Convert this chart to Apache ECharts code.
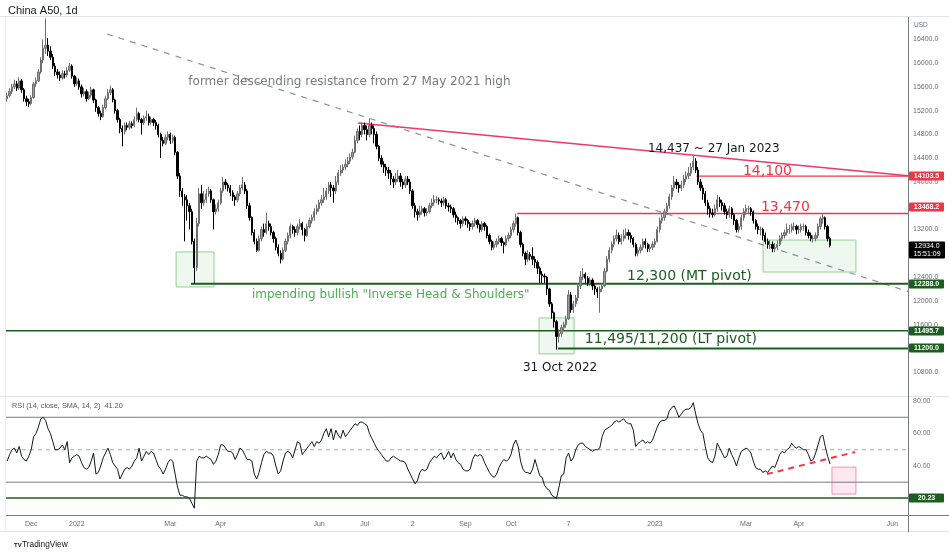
<!DOCTYPE html>
<html>
<head>
<meta charset="utf-8">
<title>China A50, 1d</title>
<script src="https://cdn.jsdelivr.net/npm/echarts@6.0.0/dist/echarts.min.js"></script>
<style>
  html, body { margin: 0; padding: 0; background: #ffffff; }
  #main { width: 949px; height: 552px; }
</style>
</head>
<body>
<div id="main"></div>
<script>
// 横轴：日线，右侧留空到 6 月
var SLOTS = 376;
var tickIdx  = [10, 29, 68, 89, 130, 149, 169, 191, 210, 234, 270, 308, 330, 369];
var tickText = ['Dec', '2022', 'Mar', 'Apr', 'Jun', 'Jul', '2', 'Sep', 'Oct', '7', '2023', 'Mar', 'Apr', 'Jun'];
var priceTicks = [10800, 11200, 11600, 12000, 12400, 12800, 13200, 13600, 14000, 14400, 14800, 15200, 15600, 16000, 16400];
var rsiTicks = [40, 60, 80];

// 日K [open, close, low, high]
var ohlc = [
  [15400,15450,15350,15500],[15450,15520,15420,15580],[15520,15600,15480,15650],[15600,15650,15560,15720],[15650,15580,15530,15700],[15580,15700,15550,15760],[15700,15550,15500,15730],[15550,15400,15350,15580],[15400,15350,15280,15450],[15350,15320,15260,15400],
  [15320,15420,15290,15460],[15420,15650,15400,15680],[15650,15700,15600,15760],[15700,15850,15680,15900],[15850,16050,15820,16100],[16050,16250,16000,16400],[16250,16300,16150,16750],[16300,16200,16120,16420],[16200,16100,16050,16280],[16100,15950,15900,16150],
  [15950,15850,15780,16000],[15850,15800,15740,15900],[15800,15750,15700,15860],[15750,15820,15720,15880],[15820,15800,15740,15870],[15800,15880,15760,15930],[15880,15950,15850,16000],[15950,15780,15740,15980],[15780,15650,15600,15800],[15650,15700,15620,15760],
  [15700,15600,15550,15740],[15600,15480,15420,15640],[15480,15520,15440,15580],[15520,15400,15350,15560],[15400,15460,15380,15520],[15460,15550,15420,15600],[15550,15380,15330,15570],[15380,15250,15180,15400],[15250,15150,15100,15280],[15150,15100,15040,15200],
  [15100,15250,15080,15300],[15250,15400,15220,15450],[15400,15500,15380,15560],[15500,15550,15460,15620],[15550,15380,15340,15580],[15380,15200,15150,15400],[15200,15050,15000,15230],[15050,14900,14820,15080],[14900,14850,14600,14950],[14850,14950,14800,15000],
  [14950,14920,14870,15000],[14920,14980,14880,15030],[14980,14950,14900,15020],[14950,15050,14920,15100],[15050,15150,15020,15250],[15150,15050,15000,15180],[15050,15000,14800,15080],[15000,15080,14960,15120],[15080,15100,15030,15200],[15100,15000,14950,15150],
  [15000,15050,14960,15100],[15050,15000,14940,15080],[15000,14950,14880,15040],[14950,14800,14750,14980],[14800,14700,14400,14830],[14700,14650,14600,14760],[14650,14750,14620,14800],[14750,14800,14700,14850],[14800,14700,14640,14830],[14700,14750,14650,14800],
  [14750,14500,14450,14780],[14500,14100,14050,14520],[14100,13850,13750,14150],[13850,13750,13600,13900],[13750,13700,13000,13800],[13700,13600,13350,13780],[13600,13500,13200,13650],[13500,13000,12950,13550],[13000,12560,12290,13050],[12560,13300,12500,13400],
  [13300,13800,13250,13900],[13800,13650,13550,13950],[13650,13700,13600,13850],[13700,13800,13650,13880],[13800,13850,13750,13920],[13850,13700,13650,13880],[13700,13500,13200,13720],[13500,13550,13450,13620],[13550,13650,13500,13700],[13650,13850,13620,13900],
  [13850,14000,13820,14080],[14000,13950,13880,14050],[13950,13900,13840,13980],[13900,13820,13760,13950],[13820,13750,13680,13860],[13750,13700,13600,13780],[13700,13800,13660,13850],[13800,13900,13760,13950],[13900,13950,13860,14080],[13950,13850,13800,14000],
  [13850,13600,13550,13880],[13600,13400,13350,13650],[13400,13150,13100,13420],[13150,13000,12950,13200],[13000,12850,12820,13050],[12850,13050,12830,13100],[13050,13200,13000,13250],[13200,13150,13080,13300],[13150,13300,13120,13480],[13300,13250,13180,13350],
  [13250,13150,13100,13300],[13150,13050,12980,13180],[13050,12900,12850,13080],[12900,12800,12750,12950],[12800,12700,12630,12850],[12700,12850,12680,12900],[12850,13000,12820,13050],[13000,13100,12950,13150],[13100,13250,13050,13300],[13250,13200,13130,13280],
  [13200,13150,13080,13250],[13150,13250,13100,13300],[13250,13300,13200,13380],[13300,13200,13100,13330],[13200,13100,13000,13230],[13100,13250,13080,13300],[13250,13350,13220,13400],[13350,13400,13300,13450],[13400,13500,13350,13560],[13500,13550,13450,13620],
  [13550,13650,13500,13700],[13650,13700,13600,13780],[13700,13750,13650,13900],[13750,13850,13700,13900],[13850,13950,13800,14000],[13950,13900,13750,14000],[13900,13850,13650,13950],[13850,14000,13800,14100],[14000,14150,13950,14200],[14150,14200,14100,14280],
  [14200,14250,14150,14300],[14250,14300,14200,14380],[14300,14350,14250,14420],[14350,14420,14300,14480],[14420,14500,14380,14560],[14500,14700,14480,14780],[14700,14850,14650,14900],[14850,14800,14700,14950],[14800,14950,14750,15000],[14950,14880,14800,15000],
  [14880,14800,14700,14950],[14800,14950,14750,15070],[14950,14900,14800,15000],[14900,14800,14650,14950],[14800,14600,14550,14850],[14600,14400,14350,14620],[14400,14300,14250,14450],[14300,14250,14150,14350],[14250,14200,14100,14300],[14200,14150,14050,14250],
  [14150,14050,13950,14200],[14050,14000,13900,14100],[14000,14050,13950,14150],[14050,14100,14000,14200],[14100,14000,13920,14150],[14000,13950,13880,14050],[13950,14050,13900,14100],[14050,14000,13950,14100],[14000,13850,13800,14050],[13850,13600,13550,13880],
  [13600,13500,13400,13650],[13500,13450,13350,13550],[13450,13500,13400,13600],[13500,13550,13450,13600],[13550,13480,13420,13580],[13480,13500,13430,13560],[13500,13600,13470,13650],[13600,13650,13560,13720],[13650,13700,13600,13780],[13700,13700,13640,13760],
  [13700,13680,13620,13740],[13680,13650,13580,13720],[13650,13700,13600,13750],[13700,13600,13550,13730],[13600,13580,13500,13650],[13580,13550,13480,13620],[13550,13450,13400,13580],[13450,13400,13320,13500],[13400,13350,13280,13420],[13350,13300,13220,13380],
  [13300,13380,13250,13420],[13380,13350,13280,13420],[13350,13300,13230,13380],[13300,13250,13180,13330],[13250,13300,13200,13350],[13300,13350,13250,13400],[13350,13280,13220,13380],[13280,13200,13150,13300],[13200,13300,13160,13340],[13300,13250,13180,13330],
  [13250,13100,13050,13280],[13100,13000,12950,13130],[13000,12900,12850,13030],[12900,12950,12860,13000],[12950,13000,12900,13050],[13000,13050,12950,13100],[13050,12980,12920,13080],[12980,12950,12800,13000],[12950,13050,12920,13100],[13050,13100,13000,13150],
  [13100,13200,13050,13250],[13200,13300,13150,13350],[13300,13400,13250,13470],[13400,13150,13100,13420],[13150,12950,12900,13180],[12950,12800,12750,12980],[12800,12700,12600,12830],[12700,12780,12650,12850],[12780,12750,12680,12820],[12750,12700,12600,12900],
  [12700,12650,12550,12750],[12650,12550,12450,12680],[12550,12450,12300,12580],[12450,12420,12300,12500],[12420,12400,12300,12460],[12400,12200,12100,12420],[12200,11950,11900,12220],[11950,11800,11700,11980],[11800,11650,11550,11820],[11650,11400,11180,11680],
  [11400,11450,11300,11520],[11450,11550,11400,11600],[11550,11600,11500,11650],[11600,11700,11550,11750],[11700,12100,11680,12180],[12100,11850,11800,12150],[11850,11950,11800,12000],[11950,12050,11900,12100],[12050,12250,12000,12300],[12250,12400,12200,12500],
  [12400,12450,12350,12550],[12450,12380,12300,12480],[12380,12300,12250,12420],[12300,12350,12250,12400],[12350,12250,12180,12380],[12250,12200,12100,12280],[12200,12150,12050,12230],[12150,12200,11800,12250],[12200,12250,12150,12300],[12250,12500,12230,12550],
  [12500,12700,12480,12750],[12700,12850,12650,12900],[12850,12950,12800,13000],[12950,13050,12900,13100],[13050,13100,13000,13200],[13100,13000,12950,13150],[13000,13050,12950,13120],[13050,13100,13000,13200],[13100,13150,13050,13220],[13150,13100,13030,13200],
  [13100,13050,12980,13150],[13050,12950,12900,13080],[12950,12800,12750,12980],[12800,12850,12750,12900],[12850,12900,12800,12950],[12900,13000,12850,13050],[13000,12950,12880,13050],[12950,12880,12820,12980],[12880,12900,12820,12950],[12900,12950,12850,13000],
  [12950,13000,12900,13050],[13000,13200,12980,13250],[13200,13350,13150,13400],[13350,13400,13300,13480],[13400,13500,13350,13550],[13500,13600,13450,13650],[13600,13750,13550,13800],[13750,13900,13700,13950],[13900,14000,13850,14100],[14000,13950,13880,14050],
  [13950,13900,13820,14000],[13900,13950,13850,14020],[13950,14050,13900,14120],[14050,14100,14000,14180],[14100,14150,14050,14250],[14150,14250,14100,14320],[14250,14350,14200,14437],[14350,14200,14150,14400],[14200,14000,13950,14250],[14000,13900,13850,14050],
  [13900,13800,13700,13950],[13800,13650,13600,13850],[13650,13550,13450,13700],[13550,13480,13400,13600],[13480,13450,13400,13550],[13450,13550,13420,13620],[13550,13700,13500,13780],[13700,13650,13580,13750],[13650,13600,13520,13700],[13600,13500,13450,13650],
  [13500,13450,13380,13550],[13450,13550,13400,13600],[13550,13450,13380,13580],[13450,13350,13280,13480],[13350,13200,13150,13380],[13200,13250,13150,13300],[13250,13400,13200,13450],[13400,13500,13350,13560],[13500,13550,13450,13620],[13550,13550,13480,13600],
  [13550,13500,13430,13580],[13500,13350,13300,13520],[13350,13250,13200,13380],[13250,13200,13120,13300],[13200,13200,13100,13250],[13200,13100,13020,13230],[13100,13000,12950,13150],[13000,12950,12880,13050],[12950,12950,12870,13020],[12950,12880,12820,13000],
  [12880,12900,12820,12980],[12900,12950,12850,13020],[12950,13050,12920,13100],[13050,13100,13000,13150],[13100,13150,13050,13200],[13150,13200,13100,13300],[13200,13200,13130,13280],[13200,13250,13150,13300],[13250,13250,13180,13320],[13250,13200,13120,13280],
  [13200,13200,13130,13270],[13200,13250,13150,13300],[13250,13250,13180,13300],[13250,13150,13100,13280],[13150,13100,13050,13200],[13100,13050,13000,13150],[13050,13050,12980,13100],[13050,13100,13000,13150],[13100,13250,13050,13300],[13250,13380,13200,13420],
  [13380,13400,13300,13460],[13400,13250,13200,13420],[13250,13050,13000,13280],[13050,12934,12900,13080]
];

// RSI(14)
var rsi = [
  43,47,50,51,48,52,46,44,43,46,
  50,58,60,64,69,70,68,63,60,55,
  50,50,51,53,50,55,42,45,46,47,
  46,42,39,38,39,43,48,35,36,40,
  45,48,51,47,42,40,38,32,35,38,
  39,38,40,43,45,51,43,46,49,47,
  49,48,44,40,38,35,38,42,44,43,
  35,27,22,22,21,21,20,17,14,43,
  46,45,45,46,45,44,41,43,47,53,
  53,51,49,49,48,44,47,51,50,47,
  44,44,43,35,32,36,42,47,49,48,
  48,46,40,35,37,43,48,49,48,45,
  50,55,54,47,49,51,53,55,52,55,
  54,56,60,63,58,63,56,62,59,57,
  62,58,60,62,64,66,65,67,67,66,
  65,60,57,54,51,49,47,45,43,43,
  45,46,45,44,43,43,42,38,35,32,
  29,31,36,38,37,38,42,44,46,45,
  47,48,44,46,49,45,48,44,42,41,
  38,37,37,38,44,47,46,47,46,42,
  39,36,34,33,35,39,42,44,43,44,
  47,53,56,52,43,38,36,36,35,38,
  44,39,34,33,28,26,25,22,21,20,
  27,34,35,45,48,43,45,50,53,54,
  54,52,51,50,49,50,50,51,58,62,
  63,64,65,67,68,67,68,69,67,66,
  66,62,52,54,55,56,54,55,54,56,
  60,64,67,68,68,69,74,76,77,74,
  70,72,74,75,75,76,79,72,66,62,
  60,52,45,43,42,46,54,51,48,45,
  46,51,47,44,40,45,49,50,51,50,
  48,43,39,38,38,36,37,36,38,40,
  39,43,47,49,48,50,51,54,52,51,
  52,51,50,50,47,43,44,48,53,58,
  59,52,46,41.2
];

// 画线：价格水平位
var levels = [
  {v: 14100,   from: 287.3, color: '#f23645', w: 1.3},
  {v: 13470,   from: 212.6, color: '#f23645', w: 1.3},
  {v: 12288,   from: 76.6,  color: '#1b5e20', w: 2},
  {v: 11495.7, from: -0.5,  color: '#1b5e20', w: 1.5},
  {v: 11200,   from: 229.6, color: '#1b5e20', w: 2}
];
var trendGrey = [[41.6, 16489], [375.5, 12158]];
var trendPink = [[146.2, 14992], [375.5, 14103.5]];
var boxes = [
  [[70.4, 12823], [86.2, 12234]],
  [[221.7, 11713], [236.3, 11108]],
  [[315.1, 13023], [353.8, 12485]]
];
var rsiLevels = [
  {v: 70, color: '#787b86', w: 1, dash: 'solid'},
  {v: 50, color: '#a3a6af', w: 1, dash: [4, 4]},
  {v: 30, color: '#787b86', w: 1, dash: 'solid'},
  {v: 20.23, color: '#1b5e20', w: 1.5, dash: 'solid'}
];
var rsiTrend = [[316.7, 35.0], [353.4, 48.6]];
var rsiBox = [[343.8, 39.3], [353.8, 22.7]];

var notes = [
  {t: 'former descending resistance from 27 May 2021 high', at: 75.5, v: 15680, color: '#787b86', size: 12},
  {t: '14,437 ~ 27 Jan 2023', at: 267.1, v: 14555, color: '#131722', size: 12},
  {t: '14,100', at: 306.7, v: 14185, color: '#f23645', size: 14},
  {t: '13,470', at: 314.2, v: 13580, color: '#f23645', size: 14},
  {t: '12,300 (MT pivot)', at: 258.4, v: 12419, color: '#1b5e20', size: 14},
  {t: 'impending bullish "Inverse Head & Shoulders"', at: 102.0, v: 12100, color: '#4caf50', size: 12},
  {t: '11,495/11,200 (LT pivot)', at: 240.8, v: 11360, color: '#1b5e20', size: 14},
  {t: '31 Oct 2022', at: 215.0, v: 10872, color: '#131722', size: 12}
];
var tags = [
  {v: 14103.5, text: '14103.5', bg: '#f23645', axis: 0},
  {v: 13468.2, text: '13468.2', bg: '#f23645', axis: 0, dy: -7},
  {v: 12288,   text: '12288.0', bg: '#1b5e20', axis: 0},
  {v: 11495.7, text: '11495.7', bg: '#1b5e20', axis: 0},
  {v: 11200,   text: '11200.0', bg: '#1b5e20', axis: 0},
  {v: 20.23,   text: '20.23',   bg: '#1b5e20', axis: 1}
];

var cats = [];
for (var i = 0; i < SLOTS; i++) cats.push('');
for (var k = 0; k < tickIdx.length; k++) cats[tickIdx[k]] = tickText[k];

var FONT = 'Liberation Sans';
var END = SLOTS - 0.5;

function segSeries(name, pts, xi, yi, color, w, type) {
  return {
    name: name, type: 'line', xAxisIndex: xi, yAxisIndex: yi,
    data: pts, symbol: 'none', silent: true, z: 3,
    lineStyle: {color: color, width: w, type: type || 'solid'}
  };
}

var series = [
  {
    name: 'China A50', type: 'candlestick', xAxisIndex: 0, yAxisIndex: 0,
    data: ohlc, barWidth: 1.8, z: 4,
    itemStyle: {color: '#9a9a9a', color0: '#000000', borderColor: '#6e6e6e', borderColor0: '#000000', borderWidth: 1}
  },
  {
    name: 'RSI', type: 'line', xAxisIndex: 2, yAxisIndex: 1,
    data: rsi, symbol: 'none', z: 4,
    lineStyle: {color: '#131722', width: 1}
  },
  segSeries('grey', trendGrey, 1, 0, '#8c8f99', 1.2, [6, 6]),
  segSeries('pink', trendPink, 1, 0, '#ec3a68', 1.5),
  segSeries('rsiTrend', rsiTrend, 3, 1, '#f23645', 2, [6, 5]),
  {
    name: 'boxes', type: 'line', xAxisIndex: 1, yAxisIndex: 0, data: [], silent: true,
    markArea: {
      silent: true,
      itemStyle: {color: 'rgba(76,175,80,0.09)', borderColor: '#8fd192', borderWidth: 1},
      data: boxes.map(function (b) { return [{coord: b[0]}, {coord: b[1]}]; })
    }
  },
  {
    name: 'rsiBox', type: 'line', xAxisIndex: 3, yAxisIndex: 1, data: [], silent: true,
    markArea: {
      silent: true,
      itemStyle: {color: 'rgba(233,30,99,0.1)', borderColor: '#f48fb1', borderWidth: 1},
      data: [[{coord: rsiBox[0]}, {coord: rsiBox[1]}]]
    }
  }
];
levels.forEach(function (l, n) {
  series.push(segSeries('lvl' + n, [[l.from, l.v], [END, l.v]], 1, 0, l.color, l.w));
});
rsiLevels.forEach(function (l, n) {
  series.push(segSeries('rl' + n, [[-0.5, l.v], [END, l.v]], 3, 1, l.color, l.w, l.dash));
});

var option = {
  animation: false,
  backgroundColor: '#ffffff',
  grid: [
    {left: 6, right: 41, top: 17, height: 379, outerBoundsMode: 'none'},
    {left: 6, right: 41, top: 396, height: 119, outerBoundsMode: 'none'}
  ],
  xAxis: [
    {type: 'category', gridIndex: 0, data: cats, boundaryGap: true,
      axisLine: {show: false, onZero: false}, axisTick: {show: false}, axisLabel: {show: false}, splitLine: {show: false}},
    {type: 'value', gridIndex: 0, min: -0.5, max: END, show: false, axisLine: {onZero: false}, splitLine: {show: false}},
    {type: 'category', gridIndex: 1, data: cats, boundaryGap: true,
      axisLine: {show: true, onZero: false, lineStyle: {color: '#787b86', width: 1}}, axisTick: {show: false},
      axisLabel: {show: true, interval: 0, color: '#6a6d78', fontSize: 7, fontFamily: FONT, margin: 6},
      splitLine: {show: false}},
    {type: 'value', gridIndex: 1, min: -0.5, max: END, show: false, axisLine: {onZero: false}, splitLine: {show: false}}
  ],
  yAxis: [
    {type: 'value', gridIndex: 0, position: 'right', min: 10400, max: 16775, interval: 400,
      axisLine: {show: true, onZero: false, lineStyle: {color: '#787b86'}}, axisTick: {show: false}, splitLine: {show: false},
      axisLabel: {color: '#6a6d78', fontSize: 7, fontFamily: FONT, margin: 5,
        formatter: function (v) { return priceTicks.indexOf(v) >= 0 ? v.toFixed(1) : ''; }}},
    {type: 'value', gridIndex: 1, position: 'right', min: 9.8, max: 83.1, splitNumber: 4,
      axisLine: {show: true, onZero: false, lineStyle: {color: '#787b86'}}, axisTick: {show: false}, splitLine: {show: false},
      axisLabel: {color: '#6a6d78', fontSize: 7, fontFamily: FONT, margin: 5,
        formatter: function (v) { return rsiTicks.indexOf(v) >= 0 ? v.toFixed(2) : ''; }}}
  ],
  series: series
};

var myChart = echarts.init(document.getElementById('main'));
myChart.setOption(option);
drawNotes();

function hline(x1, x2, y, color) {
  return {type: 'line', z: 90, silent: true, shape: {x1: x1, y1: y, x2: x2, y2: y}, style: {stroke: color, lineWidth: 1}};
}
function vline(x, y1, y2, color) {
  return {type: 'line', z: 90, silent: true, shape: {x1: x, y1: y1, x2: x, y2: y2}, style: {stroke: color, lineWidth: 1}};
}

function drawNotes() {
  var g = [];
  var main = {xAxisIndex: 1, yAxisIndex: 0};
  // 边框
  g.push(hline(0, 949, 16.5, '#e0e3eb'));
  g.push(hline(0, 949, 396.5, '#e0e3eb'));
  g.push(hline(908, 949, 515.5, '#787b86'));
  g.push(hline(0, 949, 531.5, '#e0e3eb'));
  g.push(vline(908.5, 17, 532, '#787b86'));
  g.push(vline(5.5, 17, 532, '#eef0f4'));

  notes.forEach(function (n) {
    var p = myChart.convertToPixel(main, [n.at, n.v]);
    g.push({type: 'text', z: 95, silent: true,
      style: {text: n.t, x: p[0], y: p[1], fill: n.color, font: n.size + 'px "DejaVu Sans"', verticalAlign: 'middle'}});
  });

  tags.forEach(function (tg) {
    var y = myChart.convertToPixel({yAxisIndex: tg.axis}, tg.v) + (tg.dy || 0);
    g.push({type: 'rect', z: 98, silent: true, shape: {x: 909, y: Math.round(y) - 4.5, width: 35, height: 9, r: 1},
      style: {fill: tg.bg}});
    g.push({type: 'text', z: 99, silent: true,
      style: {text: tg.text, x: 926.5, y: Math.round(y), fill: '#ffffff', font: 'bold 7px "' + FONT + '"', align: 'center', verticalAlign: 'middle'}});
  });

  // 最新价 + 倒计时
  var last = ohlc[ohlc.length - 1][1];
  var ly = myChart.convertToPixel({yAxisIndex: 0}, last);
  g.push({type: 'rect', z: 98, silent: true, shape: {x: 909, y: Math.round(ly) - 3.5, width: 36, height: 17, r: 1}, style: {fill: '#000000'}});
  g.push({type: 'text', z: 99, silent: true,
    style: {text: last.toFixed(1) + '\n15:51:09', x: 927, y: Math.round(ly) + 5, fill: '#ffffff', font: '7px "' + FONT + '"', lineHeight: 8, align: 'center', verticalAlign: 'middle'}});

  g.push({type: 'text', z: 95, silent: true, style: {text: 'China A50, 1d', x: 8, y: 11, fill: '#131722', font: '11px "' + FONT + '"', verticalAlign: 'middle'}});
  g.push({type: 'text', z: 95, silent: true, style: {text: 'USD', x: 914, y: 25, fill: '#6a6d78', font: '6.5px "' + FONT + '"', verticalAlign: 'middle'}});
  g.push({type: 'text', z: 95, silent: true, style: {text: 'RSI (14, close, SMA, 14, 2)  41.20', x: 12, y: 406, fill: '#555862', font: '7.3px "' + FONT + '"', verticalAlign: 'middle'}});
  g.push({type: 'text', z: 95, silent: true, style: {text: 'TV', x: 14, y: 545, fill: '#131722', font: 'bold 6px "' + FONT + '"', verticalAlign: 'middle'}});
  g.push({type: 'text', z: 95, silent: true, style: {text: 'TradingView', x: 22, y: 545, fill: '#131722', font: '8.3px "' + FONT + '"', verticalAlign: 'middle'}});

  myChart.setOption({graphic: g});
}

window.addEventListener('resize', function () {
  myChart.resize();
});
</script>
</body>
</html>
